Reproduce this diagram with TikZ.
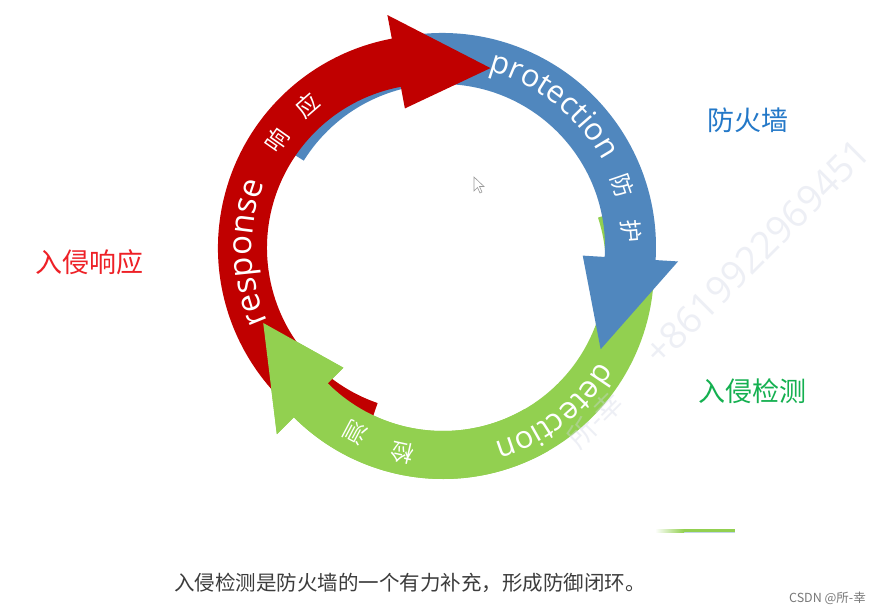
\documentclass[tikz,border=0pt]{standalone}
\usepackage{fontspec}
\newfontfamily\cjk{Noto Sans CJK SC}
\newfontfamily\latinfont{Open Sans}
\usetikzlibrary{calc,decorations.text}
\definecolor{arrred}{RGB}{192,0,0}
\definecolor{arrblue}{RGB}{80,135,190}
\definecolor{arrgreen}{RGB}{146,208,80}
\definecolor{lblblue}{RGB}{35,120,200}
\definecolor{lblred}{RGB}{238,32,38}
\definecolor{lblgreen}{RGB}{20,176,80}
\definecolor{captiongray}{RGB}{60,60,60}
\definecolor{signgray}{RGB}{120,120,120}
\definecolor{wmark}{RGB}{210,214,230}
\newcommand\latinw{\latinfont\fontsize{31}{31}\selectfont\color{white}}
\newcommand\latinwr{\latinfont\fontsize{33}{33}\selectfont\color{white}}
% #1 colour, #2 centre, #3 inner r, #4 outer r, #5 start angle,
% #6 head base angle, #7 tip angle, #8 head inner r, #9 head outer r
\newcommand\cyclearrow[9]{%
  \pgfmathsetmacro\rmid{(#8+#9)/2}%
  \fill[#1] ($(#2)+(#5:#4pt)$) arc[start angle=#5,end angle=#6,radius=#4pt]
    -- ($(#2)+(#6:#9pt)$) -- ($(#2)+(#7:\rmid pt)$) -- ($(#2)+(#6:#8pt)$)
    -- ($(#2)+(#6:#3pt)$) arc[start angle=#6,end angle=#5,radius=#3pt] -- cycle;}
\tikzset{
  cjkarc/.style={font=\cjk\fontsize{23}{23}\selectfont, text=white, inner sep=0pt},
  sidelabel/.style={font=\cjk\fontsize{27}{27}\selectfont, inner sep=0pt},
  wm/.style={text=wmark, opacity=0.38, inner sep=0pt}
}
\begin{document}
\begin{tikzpicture}[x=1pt,y=1pt]
\fill[white] (0,0) rectangle (878,614);
\useasboundingbox (0,0) rectangle (878,614);
\coordinate (R) at (431,366);
\coordinate (B) at (442,367);
\coordinate (G) at (443,346);
% arrows
\cyclearrow{arrgreen}{G}{163}{211}{18}{-135}{-163}{141}{235}
\cyclearrow{arrblue}{B}{163}{214}{148}{-3.5}{-32.8}{141}{236.5}
\cyclearrow{arrred}{R}{164}{213}{251}{100.6}{71.7}{142}{237}
\cyclearrow{arrgreen}{G}{163}{211}{-60}{-135}{-163}{141}{235}
% arc texts
\path[decoration={text along path, text align=center, text={|\latinwr|response}}, decorate]
  ($(R)+(241.5:179pt)$) arc[start angle=241.5, end angle=121.5, radius=179pt];
\path[decoration={text along path, text align=center, text={|\latinw|protection}}, decorate]
  ($(B)+(111.7:182pt)$) arc[start angle=111.7, end angle=-8.3, radius=182pt];
\path[decoration={text along path, text align=center, text={|\latinw|detection}}, decorate]
  ($(G)+(7.7:182pt)$) arc[start angle=7.7, end angle=-112.3, radius=182pt];
\node[cjkarc, rotate=55] (r1) at ($(R)+(145:188.5pt)$) {响};
\node[cjkarc, rotate=41] (r2) at ($(R)+(131:188.5pt)$) {应};
\node[cjkarc, rotate=-71.1] (b1) at ($(B)+(18.9:191pt)$) {防};
\node[cjkarc, rotate=-85.2] (b2) at ($(B)+(4.8:190pt)$) {护};
\node[cjkarc, rotate=-192.4] (g1) at ($(G)+(-102.4:189pt)$) {检};
\node[cjkarc, rotate=-208] (g2) at ($(G)+(-118:187pt)$) {测};
% side labels
\node[sidelabel, text=lblblue] (fw) at (748,494) {防火墙};
\node[sidelabel, text=lblred] (resp) at (89,352) {入侵响应};
\node[sidelabel, text=lblgreen] (det) at (752,223) {入侵检测};
% cursor
\filldraw[fill=white, draw=gray!80, line width=0.6pt]
  (474,437) -- (474,423) -- (477.5,426.5) -- (480,421) -- (482,422)
  -- (479.5,427.5) -- (484,427.5) -- cycle;
% small green sliver
\fill[arrblue!35] (660,80.7) rectangle (735,82.2);
\shade[left color=white, right color=arrgreen] (655,82) rectangle (684,84.8);
\fill[arrgreen] (683.5,82) rectangle (735,84.8);
% watermark
\node[wm, rotate=45, font=\latinfont\fontsize{37.5}{37.5}\selectfont] (wm1) at (757,362) {+8619922969451};
\node[wm, rotate=45, font=\cjk\fontsize{28}{28}\selectfont] (wm2) at (595,194) {所-幸};
% caption
\node[anchor=west, inner sep=0pt, text=captiongray, font=\cjk\fontsize{20.5}{20.5}\selectfont] (cap) at (174,31)
  {入侵检测是防火墙的一个有力补充，形成防御闭环。};
\node[anchor=east, inner sep=0pt, text=signgray, font=\cjk\fontsize{12.5}{12.5}\selectfont] (sign) at (866,16)
  {CSDN @所-幸};
\end{tikzpicture}
\end{document}
